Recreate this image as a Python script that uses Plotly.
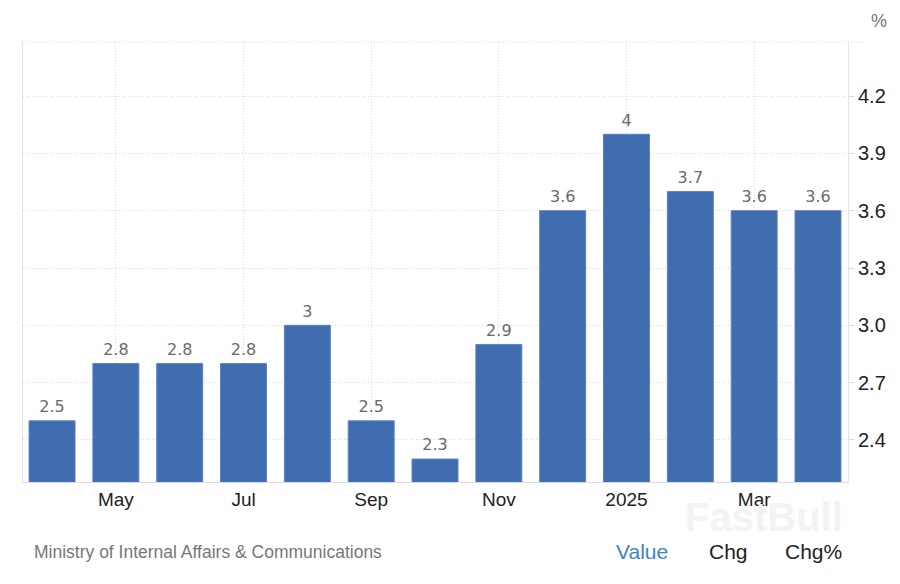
import plotly.graph_objects as go

months = ["Apr 2024", "May 2024", "Jun 2024", "Jul 2024", "Aug 2024", "Sep 2024",
          "Oct 2024", "Nov 2024", "Dec 2024", "Jan 2025", "Feb 2025", "Mar 2025", "Apr 2025"]
values = [2.5, 2.8, 2.8, 2.8, 3.0, 2.5, 2.3, 2.9, 3.6, 4.0, 3.7, 3.6, 3.6]
labels = ["2.5", "2.8", "2.8", "2.8", "3", "2.5", "2.3", "2.9", "3.6", "4", "3.7", "3.6", "3.6"]
x_tickvals = ["May 2024", "Jul 2024", "Sep 2024", "Nov 2024", "Jan 2025", "Mar 2025"]
x_ticktext = ["May", "Jul", "Sep", "Nov", "2025", "Mar"]
y_ticks = [2.4, 2.7, 3.0, 3.3, 3.6, 3.9, 4.2]

bar_color = "#3f6db0"
grid_color = "#d9d9d9"

fig = go.Figure()
fig.add_trace(go.Bar(
    x=months, y=values, width=0.72,
    marker=dict(color=bar_color, line=dict(color="#5a83c0", width=1)),
    hoverinfo="skip", showlegend=False,
))
fig.add_trace(go.Scatter(
    x=months, y=values, mode="markers+text", text=labels,
    textposition="top center",
    marker=dict(size=6, opacity=0),
    textfont=dict(family="DejaVu Sans", size=16, color="#6a6a6a"),
    cliponaxis=False, hoverinfo="skip", showlegend=False,
))

fig.update_layout(
    width=900, height=584,
    margin=dict(l=15, r=60, t=34, b=110),
    paper_bgcolor="white", plot_bgcolor="white",
    xaxis=dict(
        type="category", range=[-0.455, 12.47],
        tickmode="array", tickvals=x_tickvals, ticktext=x_ticktext,
        tickfont=dict(family="Liberation Sans", size=19, color="#222222"),
        showgrid=True, gridcolor=grid_color, griddash="1px,2px", gridwidth=1,
        showline=True, linecolor="#dcdcdc", linewidth=1,
        ticks="", zeroline=False,
    ),
    yaxis=dict(
        side="right", range=[2.18, 4.483],
        tickmode="array", tickvals=y_ticks,
        ticktext=[f"{v:.1f}" for v in y_ticks],
        tickfont=dict(family="Liberation Sans", size=20, color="#222222"),
        showgrid=True, gridcolor=grid_color, griddash="1px,2px", gridwidth=1,
        showline=True, linecolor="#e2e6ec", linewidth=1, mirror=True,
        ticks="outside", ticklen=5, tickcolor=grid_color,
        zeroline=False,
    ),
    shapes=[dict(type="line", xref="paper", yref="paper", x0=0, x1=1.017, y0=1, y1=1,
                 line=dict(color=grid_color, width=1, dash="1px,2px"))],
    annotations=[
        dict(text="%", xref="paper", yref="paper", x=1.025, y=1.075, showarrow=False,
             xanchor="left", yanchor="top",
             font=dict(family="Liberation Sans", size=18, color="#777777")),
        dict(text="<b>FastBull</b>", xref="paper", yref="paper", x=0.996, y=-0.08,
             showarrow=False, xanchor="right", yanchor="middle",
             font=dict(family="Liberation Sans", size=40, color="#f3f3f3")),
        dict(text="Ministry of Internal Affairs & Communications", xref="paper", yref="paper",
             x=0.011, y=-0.159, showarrow=False, xanchor="left", yanchor="middle",
             font=dict(family="Liberation Sans", size=17.5, color="#777777")),
        dict(text="Value", xref="paper", yref="paper", x=0.716, y=-0.159, showarrow=False,
             xanchor="left", yanchor="middle",
             font=dict(family="Liberation Sans", size=21, color="#3d85c6")),
        dict(text="Chg", xref="paper", yref="paper", x=0.829, y=-0.159, showarrow=False,
             xanchor="left", yanchor="middle",
             font=dict(family="Liberation Sans", size=21, color="#222222")),
        dict(text="Chg%", xref="paper", yref="paper", x=0.921, y=-0.159, showarrow=False,
             xanchor="left", yanchor="middle",
             font=dict(family="Liberation Sans", size=21, color="#222222")),
    ],
)

fig.write_html("out.html")
